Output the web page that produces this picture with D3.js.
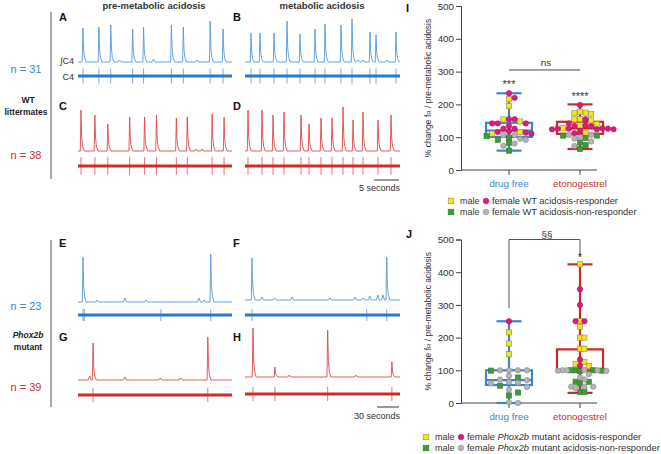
<!DOCTYPE html>
<html>
<head>
<meta charset="utf-8">
<script src="https://cdn.jsdelivr.net/npm/d3@7"></script>
<style>
body{margin:0;background:#fff}
text{font-family:"Liberation Sans",Arial,sans-serif}
</style>
</head>
<body>
<div id="fig"></div>
<script>
// ---------- recordings: burst times (s) and heights (a.u.) ----------
var timeTop = 31, timeBottom = 210;

var burstA = [1.0, 4.2, 6.6, 11.0, 13.2, 18.8, 21.2, 26.6, 29.2];
var heightA = [34, 35, 37, 33, 35, 37, 35, 41, 33];
var bumpA = [8.4, 15.2, 24.0];
var bumpHA = [2, 3, 2];

var burstB = [1.2, 3.0, 5.8, 8.4, 11.0, 14.0, 16.0, 19.2, 21.4, 25.0, 26.2, 30.2];
var heightB = [29, 29, 29, 41, 28, 33, 38, 37, 43, 30, 27, 30];
var bumpB = [22.6, 23.6, 28.4];
var bumpHB = [2, 2, 2];

var burstC = [0.6, 3.4, 6.0, 10.4, 13.4, 15.8, 19.8, 22.0, 27.0, 29.4];
var heightC = [41, 36, 27, 34, 34, 36, 33, 34, 37, 34];
var bumpC = [3.9, 23.8, 25.0];
var bumpHC = [10, 2, 2];

var burstD = [0.6, 3.4, 5.6, 7.8, 11.2, 12.8, 15.2, 17.4, 19.6, 21.6, 23.6, 26.6, 29.2];
var heightD = [41, 41, 36, 39, 36, 27, 33, 33, 44, 31, 39, 31, 36];
var bumpD = [];
var bumpHD = [];

var burstE = [6.8, 8.6, 181];
var heightE = [45, 40, 48];
var bumpE = [26, 64, 93, 165, 172];
var bumpHE = [2, 4, 2, 4, 2];
var rawExtraE = [113];

var burstF = [9.5, 192];
var heightF = [42, 43];
var bumpF = [23, 40, 64, 115, 149, 160, 169, 180, 187];
var bumpHF = [3, 2, 3, 2, 3, 2, 4, 5, 5];
var rawExtraF = [165];

var burstG = [20.5, 177];
var heightG = [37, 43];
var bumpG = [16, 64, 112, 140];
var bumpHG = [4, 3, 2, 2];
var rawExtraG = [];

var burstH = [10.8, 40.6, 112, 199];
var heightH = [49, 10, 47, 15];
var bumpH = [60, 150];
var bumpHH = [2, 2];
var rawExtraH = [];

// ---------- % change fR, one array per animal class ----------
var groups = ["drug free", "etonogestrel"];
var ticksY = [0, 100, 200, 300, 400, 500];

// I: WT littermates
var wtFreeMaleResp = [216, 195, 154, 148, 111, 116];
var wtFreeFemResp = [234, 220, 155, 155, 142, 142, 142, 134, 126, 126, 116, 114, 111, 118];
var wtFreeMaleNon = [99, 92, 103, 83, 59];
var wtFreeFemNon = [107, 107, 92, 95, 81, 74];
var wtEtoMaleResp = [178, 175, 171, 173, 155, 154, 151, 136, 140, 127, 114];
var wtEtoFemResp = [198, 155, 142, 134, 134, 136, 127, 126, 126, 124, 124, 126, 124, 112, 119];
var wtEtoMaleNon = [105, 105, 98, 84, 76, 64];
var wtEtoFemNon = [96, 107, 100, 87, 73, 107];
// box stats: min, q1, median, q3, max
var wtBox = [[59, 101, 120, 144, 234], [64, 110, 127, 147, 200]];

// J: Phox2b mutants
var mutFreeMaleResp = [216, 182, 149];
var mutFreeFemResp = [250];
var mutFreeMaleNon = [99, 78, 53, 23, 32];
var mutFreeFemNon = [100, 100, 100, 100, 83, 72, 70, 64, 62, 60, 49, 41, 0, 2];
var mutEtoMaleResp = [424, 250, 233, 200, 200, 166, 166, 125, 120, 113];
var mutEtoFemResp = [348, 300, 250, 250, 133, 114];
var mutEtoMaleNon = [100, 100, 98, 100, 99, 65, 65, 34, 34, 60];
var mutEtoFemNon = [100, 100, 99, 101, 100, 98, 78, 72, 50, 50, 50, 45, 88];
var mutBox = [[0, 55, 70, 100, 250], [31, 98, 100, 164, 424]];

// ---------- colours ----------
var blueLine = "#5599da", blueRaw = "#2e78c6", redLine = "#dc4a4a", redRaw = "#d02a2a";
var blueTxt = "#3b87cd", redTxt = "#cf2e2e";
var fillMaleResp = "#f6e51c", fillFemResp = "#e0197d", fillMaleNon = "#3c9c3c", fillFemNon = "#b4b4b4";

var svg = d3.select("#fig").append("svg")
    .attr("width", 661)
    .attr("height", 454);

// ---------- trace panels ----------
var colRange = [[78, 232], [245, 400]];

function tracePanel(o) {
    var x = d3.scaleLinear().domain([0, o.T]).range(colRange[o.col]);
    var y = d3.scaleLinear().domain([0, 50]).range([o.base, o.base - 50]);
    var k = o.T / (colRange[o.col][1] - colRange[o.col][0]); // s per px
    var ev = [];
    o.burst.forEach(function(t, i) { ev.push({t: t, a: o.height[i], s: true}); });
    o.bump.forEach(function(t, i) { ev.push({t: t, a: o.bumpH[i], s: false}); });
    ev.sort(function(a, b) { return a.t - b.t; });
    var pts = [[0, 0]];
    function add(t, v) {
        if (t > pts[pts.length - 1][0] && t <= o.T) pts.push([t, v]);
    }
    ev.forEach(function(e) {
        if (e.s) {
            add(e.t - 0.7 * k, 0);
            add(e.t, e.a);
            add(e.t + 0.7 * k, e.a * 0.35);
            add(e.t + 1.6 * k, e.a * 0.12);
            add(e.t + 3.2 * k, 0);
        } else {
            add(e.t - 1.5 * k, 0);
            add(e.t, e.a);
            add(e.t + 1.5 * k, 0);
        }
    });
    add(o.T, 0);
    var line = d3.line()
        .x(function(d) { return x(d[0]); })
        .y(function(d) { return y(d[1]); });
    svg.append("path")
        .attr("d", line(pts))
        .attr("fill", "none")
        .attr("stroke", o.c1)
        .attr("stroke-width", 0.9);
    // raw C4 band
    svg.append("line")
        .attr("x1", x(0)).attr("x2", x(o.T))
        .attr("y1", o.raw).attr("y2", o.raw)
        .attr("stroke", o.c2)
        .attr("stroke-width", 3);
    svg.append("g").selectAll("line")
        .data(o.burst.concat(o.rawExtra || []))
        .enter()
        .append("line")
        .attr("x1", function(d) { return x(d); })
        .attr("x2", function(d) { return x(d); })
        .attr("y1", o.raw - o.sp)
        .attr("y2", o.raw + o.sp)
        .attr("stroke", o.c2)
        .attr("stroke-opacity", 0.8)
        .attr("stroke-width", 0.8);
    return x;
}

var xTop = tracePanel({T: timeTop, col: 0, base: 62, raw: 76, sp: 7.5, burst: burstA, height: heightA, bump: bumpA, bumpH: bumpHA, c1: blueLine, c2: blueRaw});
tracePanel({T: timeTop, col: 1, base: 62, raw: 76, sp: 7.5, burst: burstB, height: heightB, bump: bumpB, bumpH: bumpHB, c1: blueLine, c2: blueRaw});
tracePanel({T: timeTop, col: 0, base: 151, raw: 166, sp: 9, burst: burstC, height: heightC, bump: bumpC, bumpH: bumpHC, c1: redLine, c2: redRaw});
tracePanel({T: timeTop, col: 1, base: 151, raw: 166, sp: 9, burst: burstD, height: heightD, bump: bumpD, bumpH: bumpHD, c1: redLine, c2: redRaw});
var xBot = tracePanel({T: timeBottom, col: 0, base: 302, raw: 315, sp: 6, burst: burstE, height: heightE, bump: bumpE, bumpH: bumpHE, rawExtra: rawExtraE, c1: blueLine, c2: blueRaw});
tracePanel({T: timeBottom, col: 1, base: 300, raw: 315, sp: 6, burst: burstF, height: heightF, bump: bumpF, bumpH: bumpHF, rawExtra: rawExtraF, c1: blueLine, c2: blueRaw});
tracePanel({T: timeBottom, col: 0, base: 380, raw: 395, sp: 7, burst: burstG, height: heightG, bump: bumpG, bumpH: bumpHG, rawExtra: rawExtraG, c1: redLine, c2: redRaw});
tracePanel({T: timeBottom, col: 1, base: 377, raw: 394, sp: 7, burst: burstH, height: heightH, bump: bumpH, bumpH: bumpHH, rawExtra: rawExtraH, c1: redLine, c2: redRaw});

// scale bars
var sb5 = xTop(5) - xTop(0), sb30 = xBot(30) - xBot(0);
svg.append("line").attr("x1", 399 - sb5).attr("x2", 399).attr("y1", 180).attr("y2", 180)
    .attr("stroke", "#333").attr("stroke-width", 1);
svg.append("text").attr("x", 400).attr("y", 191).attr("text-anchor", "end")
    .attr("font-size", 9).attr("fill", "#333").text("5 seconds");
svg.append("line").attr("x1", 399 - sb30).attr("x2", 399).attr("y1", 407).attr("y2", 407)
    .attr("stroke", "#333").attr("stroke-width", 1);
svg.append("text").attr("x", 400).attr("y", 419).attr("text-anchor", "end")
    .attr("font-size", 9).attr("fill", "#333").text("30 seconds");

// left brackets and labels
svg.append("line").attr("x1", 51).attr("x2", 51).attr("y1", 12).attr("y2", 179).attr("stroke", "#555");
svg.append("line").attr("x1", 51).attr("x2", 51).attr("y1", 240).attr("y2", 407).attr("stroke", "#555");

function label(x, y, s, opt) {
    opt = opt || {};
    return svg.append("text")
        .attr("x", x).attr("y", y)
        .attr("text-anchor", opt.anchor || "start")
        .attr("font-size", opt.size || 9)
        .attr("font-weight", opt.bold ? "bold" : null)
        .attr("font-style", opt.italic ? "italic" : null)
        .attr("fill", opt.fill || "#222")
        .text(s);
}
label(154, 9, "pre-metabolic acidosis", {anchor: "middle", bold: true, size: 9.5, fill: "#333"});
label(322, 9, "metabolic acidosis", {anchor: "middle", bold: true, size: 9.5, fill: "#333"});
[["A", 59, 21], ["B", 233, 21], ["C", 59, 110], ["D", 233, 110],
 ["E", 59, 247], ["F", 233, 247], ["G", 59, 341], ["H", 233, 341]].forEach(function(p) {
    label(p[1], p[2], p[0], {bold: true, size: 11, fill: "#111"});
});
label(74, 64, "\u222BC4", {anchor: "end", size: 9, fill: "#333"});
label(74, 80, "C4", {anchor: "end", size: 9, fill: "#333"});
label(26, 73, "n = 31", {anchor: "middle", size: 11, fill: blueTxt});
label(28, 103, "WT", {anchor: "middle", bold: true, size: 8.5});
label(26, 115, "littermates", {anchor: "middle", bold: true, size: 8.5});
label(26, 159, "n = 38", {anchor: "middle", size: 11, fill: redTxt});
label(26, 310, "n = 23", {anchor: "middle", size: 11, fill: blueTxt});
label(28, 338, "Phox2b", {anchor: "middle", bold: true, italic: true, size: 8.5});
label(28, 350, "mutant", {anchor: "middle", bold: true, size: 8.5});
label(26, 391, "n = 39", {anchor: "middle", size: 11, fill: redTxt});

// ---------- box + dot plots ----------
var xCat = d3.scalePoint().domain(groups).range([509, 580]);

function swarm(vals, y, step) {
    var placed = [];
    vals.slice().sort(function(a, b) { return b.v - a.v; }).forEach(function(p) {
        var py = y(p.v);
        for (var n = 0; n < 40; n++) {
            var dx = (n % 2 ? 1 : -1) * Math.ceil(n / 2) * step;
            var hit = placed.some(function(q) {
                return Math.abs(q.py - py) < 5 && Math.abs(q.dx - dx) < step - 0.4;
            });
            if (!hit) { p.dx = dx; p.py = py; placed.push(p); break; }
        }
    });
    return placed;
}

function dotPanel(o) {
    var y = d3.scaleLinear().domain([0, 500]).range(o.yr);
    var g = svg.append("g");
    var yAxis = d3.axisLeft(y).tickValues(ticksY).tickSize(5).tickPadding(2);
    g.append("g").attr("transform", "translate(461,0)").call(yAxis)
        .call(function(a) {
            a.selectAll("text").attr("font-size", 9.8).attr("fill", "#333")
                .attr("font-family", "Liberation Sans, Arial, sans-serif");
            a.selectAll("line,path").attr("stroke", "#444");
        });
    g.append("line").attr("x1", 461).attr("x2", 597).attr("y1", y(0)).attr("y2", y(0)).attr("stroke", "#444");
    g.selectAll(".xt").data(groups).enter().append("line")
        .attr("x1", function(d) { return xCat(d); })
        .attr("x2", function(d) { return xCat(d); })
        .attr("y1", y(0)).attr("y2", y(0) + 5).attr("stroke", "#444");
    g.selectAll(".xl").data(groups).enter().append("text")
        .attr("x", function(d) { return xCat(d); })
        .attr("y", y(0) + 17)
        .attr("text-anchor", "middle")
        .attr("font-size", 9.8)
        .attr("fill", function(d, i) { return i ? redTxt : blueTxt; })
        .text(function(d) { return d; });
    var yt = g.append("text")
        .attr("transform", "translate(431," + ((o.yr[0] + o.yr[1]) / 2) + ") rotate(-90)")
        .attr("text-anchor", "middle")
        .attr("font-size", 8.5)
        .attr("fill", "#333");
    yt.append("tspan").text("% change f");
    yt.append("tspan").attr("font-size", 6).text("R");
    yt.append("tspan").text(" / pre-metabolic acidosis");
    label(o.lx, o.ly, o.letter, {bold: true, size: 11, fill: "#111"});

    // boxes
    o.box.forEach(function(b, i) {
        var cx = xCat(groups[i]);
        var col = i ? "#c92a2a" : "#3b86cc";
        var bg = g.append("g").attr("stroke", col).attr("stroke-width", 2.2).attr("fill", "none");
        bg.append("line").attr("x1", cx).attr("x2", cx).attr("y1", y(b[0])).attr("y2", y(b[4]));
        [b[0], b[4]].forEach(function(v) {
            bg.append("line").attr("x1", cx - 12.5).attr("x2", cx + 12.5).attr("y1", y(v)).attr("y2", y(v));
        });
        bg.append("rect").attr("x", cx - 23).attr("width", 46)
            .attr("y", y(b[3])).attr("height", y(b[1]) - y(b[3]));
        bg.append("line").attr("x1", cx - 23).attr("x2", cx + 23).attr("y1", y(b[2])).attr("y2", y(b[2]));
    });

    // dots
    o.sets.forEach(function(s, i) {
        var cx = xCat(groups[i]);
        var vals = [];
        [["mr", s[0]], ["fr", s[1]], ["mn", s[2]], ["fn", s[3]]].forEach(function(c) {
            c[1].forEach(function(v) { vals.push({v: v, k: c[0]}); });
        });
        var pts = swarm(vals, y, o.step[i]);
        var dg = g.append("g");
        dg.selectAll("rect").data(pts.filter(function(p) { return p.k[0] === "m"; }))
            .enter().append("rect")
            .attr("x", function(p) { return cx + p.dx - 2.6; })
            .attr("y", function(p) { return p.py - 2.6; })
            .attr("width", 5.2).attr("height", 5.2)
            .attr("fill", function(p) { return p.k === "mr" ? fillMaleResp : fillMaleNon; })
            .attr("stroke", function(p) { return p.k === "mr" ? "#8a8a50" : "#2f7a2f"; })
            .attr("stroke-width", 0.6);
        dg.selectAll("circle").data(pts.filter(function(p) { return p.k[0] === "f"; }))
            .enter().append("circle")
            .attr("cx", function(p) { return cx + p.dx; })
            .attr("cy", function(p) { return p.py; })
            .attr("r", 2.7)
            .attr("fill", function(p) { return p.k === "fr" ? fillFemResp : fillFemNon; })
            .attr("stroke", function(p) { return p.k === "fr" ? "#b01060" : "#888"; })
            .attr("stroke-width", 0.6);
    });
    return y;
}

var yI = dotPanel({
    yr: [170, 6], letter: "I", lx: 406, ly: 12, box: wtBox, step: [5.6, 5.6],
    sets: [[wtFreeMaleResp, wtFreeFemResp, wtFreeMaleNon, wtFreeFemNon],
           [wtEtoMaleResp, wtEtoFemResp, wtEtoMaleNon, wtEtoFemNon]]
});
var yJ = dotPanel({
    yr: [403, 239.5], letter: "J", lx: 406, ly: 238, box: mutBox, step: [9, 4.4],
    sets: [[mutFreeMaleResp, mutFreeFemResp, mutFreeMaleNon, mutFreeFemNon],
           [mutEtoMaleResp, mutEtoFemResp, mutEtoMaleNon, mutEtoFemNon]]
});

// significance marks
svg.append("line").attr("x1", 509).attr("x2", 580).attr("y1", yI(305)).attr("y2", yI(305))
    .attr("stroke", "#444");
label(546, 66, "ns", {anchor: "middle", size: 9.8, fill: "#333"});
label(509, 88, "***", {anchor: "middle", size: 11, fill: "#333"});
label(580, 100, "****", {anchor: "middle", size: 11, fill: "#333"});
svg.append("path")
    .attr("d", "M509," + yJ(290) + "V" + yJ(500) + "H580V" + yJ(448))
    .attr("fill", "none").attr("stroke", "#555");
label(547, 238, "\u00A7\u00A7", {anchor: "middle", size: 9.8, fill: "#333"});
label(580, 261, "*", {anchor: "middle", size: 11, fill: "#333"});

// legends
function legend(x0, y0, txt1, txt2, italicWord) {
    var rows = [[fillMaleResp, "#8a8a50", fillFemResp, "#b01060", txt1],
                [fillMaleNon, "#2f7a2f", fillFemNon, "#888", txt2]];
    rows.forEach(function(r, i) {
        var y = y0 + i * 11;
        svg.append("rect").attr("x", x0 - 2.8).attr("y", y - 2.8).attr("width", 5.6).attr("height", 5.6)
            .attr("fill", r[0]).attr("stroke", r[1]).attr("stroke-width", 0.6);
        label(x0 + 9, y + 3.2, "male", {size: 9, fill: "#333"});
        svg.append("circle").attr("cx", x0 + 35).attr("cy", y).attr("r", 2.8)
            .attr("fill", r[2]).attr("stroke", r[3]).attr("stroke-width", 0.6);
        var t = label(x0 + 41, y + 3.2, "", {size: 9.3, fill: "#333"});
        if (italicWord) {
            t.append("tspan").text("female ");
            t.append("tspan").attr("font-style", "italic").text(italicWord);
            t.append("tspan").text(" " + r[4]);
        } else {
            t.text("female " + r[4]);
        }
    });
}
legend(451, 201, "WT acidosis-responder", "WT acidosis-non-responder");
legend(426, 437, "mutant acidosis-responder", "mutant acidosis-non-responder", "Phox2b");
</script>
</body>
</html>
